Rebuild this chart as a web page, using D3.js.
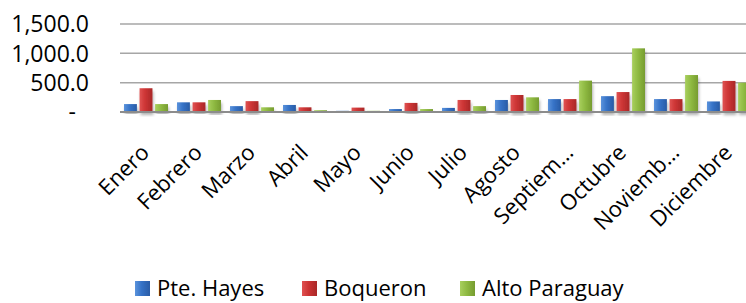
<!DOCTYPE html>
<meta charset="utf-8" />
<script src="https://d3js.org/d3.v7.min.js"></script>
<style>
  body { margin: 0; background: #fff; }
  text { font-family: "Open Sans", sans-serif; fill: #000; }
</style>
<div id="chart"></div>
<script>
  // Data
  const months = ["Enero", "Febrero", "Marzo", "Abril", "Mayo", "Junio", "Julio",
    "Agosto", "Septiembre", "Octubre", "Noviembre", "Diciembre"];
  const series = ["Pte. Hayes", "Boqueron", "Alto Paraguay"];
  const hayes = [135, 165, 100, 120, 20, 50, 70, 205, 220, 270, 220, 180];
  const boqueron = [405, 165, 185, 80, 75, 155, 205, 290, 220, 340, 220, 530];
  const altoParaguay = [135, 205, 80, 30, 20, 50, 100, 250, 535, 1085, 630, 500];
  const yTicks = [0, 500, 1000, 1500];
  const monthLabels = ["Enero", "Febrero", "Marzo", "Abril", "Mayo", "Junio", "Julio",
    "Agosto", "Septiem…", "Octubre", "Noviemb…", "Diciembre"];

  const values = [hayes, boqueron, altoParaguay];
  const colors = [
    ["#5b93dc", "#3572c6", "#2a5ca6"],
    ["#e05252", "#cc3434", "#a92828"],
    ["#a8cf5e", "#8fba42", "#769c30"]
  ];

  const width = 746, height = 303;
  const plot = { left: 120, right: 756, top: 24, bottom: 112 };

  const svg = d3.select("#chart").append("svg")
    .attr("width", width)
    .attr("height", height);

  const defs = svg.append("defs");
  colors.forEach((c, i) => {
    const g = defs.append("linearGradient")
      .attr("id", "grad" + i)
      .attr("x1", "0").attr("x2", "1").attr("y1", "0").attr("y2", "0");
    g.append("stop").attr("offset", "0%").attr("stop-color", c[0]);
    g.append("stop").attr("offset", "45%").attr("stop-color", c[1]);
    g.append("stop").attr("offset", "100%").attr("stop-color", c[2]);
  });
  const shadow = defs.append("filter").attr("id", "shadow")
    .attr("x", "-30%").attr("y", "-10%").attr("width", "160%").attr("height", "130%");
  shadow.append("feDropShadow")
    .attr("dx", 1).attr("dy", 3).attr("stdDeviation", 1.5)
    .attr("flood-color", "#000").attr("flood-opacity", 0.3);

  const x0 = d3.scaleBand().domain(months).range([plot.left, plot.right]);
  const x1 = d3.scaleBand().domain(series)
    .range([4, x0.bandwidth() - 5]).paddingInner(0.17);
  const y = d3.scaleLinear().domain([0, 1500]).range([plot.bottom, plot.top]);

  // Gridlines
  svg.append("g")
    .selectAll("line")
    .data(yTicks.slice(1))
    .join("line")
    .attr("x1", plot.left).attr("x2", width)
    .attr("y1", d => y(d)).attr("y2", d => y(d))
    .attr("stroke", "#a6a6a6")
    .attr("stroke-width", 1.5);

  // Y axis labels
  const fmt = d3.format(",.1f");
  svg.append("g")
    .selectAll("text")
    .data(yTicks)
    .join("text")
    .attr("x", d => d === 0 ? 76 : 89)
    .attr("y", d => y(d))
    .attr("dy", "0.36em")
    .attr("text-anchor", "end")
    .style("font-size", "23px")
    .text(d => d === 0 ? "-" : fmt(d));

  // Bars
  const groups = svg.append("g")
    .selectAll("g")
    .data(months)
    .join("g")
    .attr("transform", d => `translate(${x0(d)},0)`);

  groups.selectAll("rect")
    .data((m, i) => series.map((s, j) => ({ s, j, v: values[j][i] })))
    .join("rect")
    .attr("x", d => x1(d.s))
    .attr("width", x1.bandwidth())
    .attr("y", d => y(d.v))
    .attr("height", d => y(0) - y(d.v))
    .attr("fill", d => `url(#grad${d.j})`)
    .attr("filter", "url(#shadow)");

  // Baseline
  svg.append("line")
    .attr("x1", plot.left).attr("x2", width)
    .attr("y1", y(0)).attr("y2", y(0))
    .attr("stroke", "#8c8c8c")
    .attr("stroke-width", 2);

  // X labels, rotated
  svg.append("g")
    .selectAll("text")
    .data(months)
    .join("text")
    .attr("transform", (d) => `translate(${x0(d) + x0.bandwidth() / 2 + 4},${plot.bottom + 42}) rotate(-45)`)
    .attr("text-anchor", "end")
    .style("font-size", "22px")
    .text((d, i) => monthLabels[i]);

  // Legend
  const legendX = [135, 302, 460];
  const legend = svg.append("g")
    .selectAll("g")
    .data(series)
    .join("g")
    .attr("transform", (d, i) => `translate(${legendX[i]},288)`);
  legend.append("rect")
    .attr("x", 0).attr("y", -7)
    .attr("width", 15).attr("height", 15)
    .attr("fill", (d, i) => `url(#grad${i})`);
  legend.append("text")
    .attr("x", 22)
    .attr("dy", "0.36em")
    .style("font-size", "22px")
    .text(d => d);
</script>
